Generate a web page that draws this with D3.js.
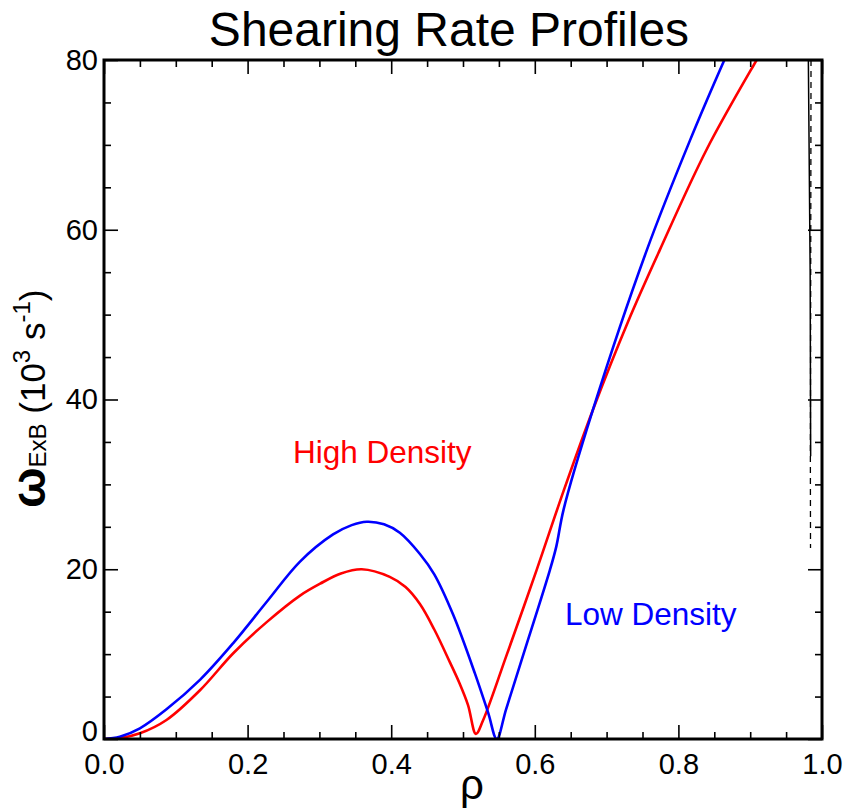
<!DOCTYPE html>
<html>
<head>
<meta charset="utf-8">
<script src="https://cdn.jsdelivr.net/npm/d3@7"></script>
<style>
  body { margin: 0; background: #fff; }
  text { font-family: "Liberation Sans", Arial, sans-serif; }
</style>
</head>
<body>
<div id="chart"></div>
<script>
// Profile data (rho, omega_ExB in 10^3 s^-1)
const highRho = [0, 0.022, 0.05, 0.087, 0.134, 0.180, 0.227, 0.273, 0.301, 0.33, 0.359, 0.398, 0.42, 0.44, 0.46, 0.482, 0.495, 0.507, 0.518, 0.528, 0.56, 0.6025, 0.64, 0.681, 0.73, 0.774, 0.839, 0.909, 0.93];
const highW   = [0, 0.1, 0.67, 2.24, 5.77, 10.1, 13.8, 16.9, 18.3, 19.5, 20.0, 19.1, 17.9, 15.9, 12.9, 9.0, 6.6, 4.0, 0.6, 2.2, 9.7, 19.9, 29.2, 38.8, 49.2, 57.6, 69.4, 80, 83];

const lowRho = [0, 0.022, 0.05, 0.087, 0.134, 0.180, 0.227, 0.273, 0.319, 0.345, 0.366, 0.39, 0.412, 0.44, 0.46, 0.4865, 0.5167, 0.535, 0.547, 0.56, 0.585, 0.621, 0.630, 0.640, 0.681, 0.756, 0.816, 0.864, 0.88];
const lowW   = [0, 0.27, 1.26, 3.5, 7.0, 11.3, 16.2, 20.9, 24.1, 25.2, 25.6, 25.3, 24.3, 21.8, 19.4, 14.6, 7.7, 3.1, 0, 3.5, 10.2, 19.9, 22.7, 27.0, 38.8, 57.6, 70.5, 80, 83];

// black traces squeezed against the right edge
const edgeSolidRho = [0.981, 0.9835, 0.9842];
const edgeSolidW   = [80, 55, 33.3];
const edgeDashRho  = [0.9847, 0.9842, 0.9838, 0.984];
const edgeDashW    = [80, 50, 33.3, 22.5];

const xMajor = [0, 0.2, 0.4, 0.6, 0.8, 1.0];
const xMinor = [0.05, 0.1, 0.15, 0.25, 0.3, 0.35, 0.45, 0.5, 0.55, 0.65, 0.7, 0.75, 0.85, 0.9, 0.95];
const yMajor = [0, 20, 40, 60, 80];
const yMinor = [5, 10, 15, 25, 30, 35, 45, 50, 55, 65, 70, 75];

const width = 854, height = 812;
const margin = { top: 60, right: 32, bottom: 73, left: 104 };
const w = width - margin.left - margin.right;
const h = height - margin.top - margin.bottom;

const svg = d3.select("#chart").append("svg")
  .attr("width", width)
  .attr("height", height);

const g = svg.append("g")
  .attr("transform", `translate(${margin.left},${margin.top})`);

const x = d3.scaleLinear().domain([0, 1]).range([0, w]);
const y = d3.scaleLinear().domain([0, 80]).range([h, 0]);

g.append("clipPath").attr("id", "clip")
  .append("rect").attr("width", w).attr("height", h);

const line = d3.line()
  .x(d => x(d[0]))
  .y(d => y(d[1]))
  .curve(d3.curveCatmullRom.alpha(0.5));

const straight = d3.line()
  .x(d => x(d[0]))
  .y(d => y(d[1]));

const plot = g.append("g").attr("clip-path", "url(#clip)");

plot.append("path")
  .datum(d3.zip(highRho, highW))
  .attr("fill", "none")
  .attr("stroke", "#ff0000")
  .attr("stroke-width", 2.6)
  .attr("d", line);

plot.append("path")
  .datum(d3.zip(lowRho, lowW))
  .attr("fill", "none")
  .attr("stroke", "#0000ff")
  .attr("stroke-width", 2.6)
  .attr("d", line);

plot.append("path")
  .datum(d3.zip(edgeSolidRho, edgeSolidW))
  .attr("fill", "none")
  .attr("stroke", "#000")
  .attr("stroke-width", 1.5)
  .attr("d", straight);

plot.append("path")
  .datum(d3.zip(edgeDashRho, edgeDashW))
  .attr("fill", "none")
  .attr("stroke", "#000")
  .attr("stroke-width", 1.3)
  .attr("stroke-dasharray", "6,5")
  .attr("d", straight);

// Axes: ticks point inward on all four sides
const fmtX = d3.format(".1f");

function styleAxis(sel) {
  sel.select(".domain").remove();
  sel.selectAll(".tick line").attr("stroke", "#000").attr("stroke-width", 1.6);
  sel.selectAll("text").attr("font-size", 29).attr("fill", "#000")
    .style("font-family", '"Liberation Sans", Arial, sans-serif');
}

g.append("g").attr("transform", `translate(0,${h})`)
  .call(d3.axisBottom(x).tickValues(xMajor).tickSize(-14).tickPadding(14).tickFormat(fmtX))
  .call(styleAxis);
g.append("g").attr("transform", `translate(0,${h})`)
  .call(d3.axisBottom(x).tickValues(xMinor).tickSize(-7).tickFormat(""))
  .call(styleAxis);
g.append("g")
  .call(d3.axisTop(x).tickValues(xMajor).tickSize(-14).tickFormat(""))
  .call(styleAxis);
g.append("g")
  .call(d3.axisTop(x).tickValues(xMinor).tickSize(-7).tickFormat(""))
  .call(styleAxis);

const yAxis = g.append("g")
  .call(d3.axisLeft(y).tickValues(yMajor).tickSize(-14).tickPadding(6))
  .call(styleAxis);
// the zero label sits a little higher, clear of the 0.0 below it
yAxis.selectAll(".tick text").filter(d => d === 0).attr("y", -8);

g.append("g")
  .call(d3.axisLeft(y).tickValues(yMinor).tickSize(-7).tickFormat(""))
  .call(styleAxis);
g.append("g").attr("transform", `translate(${w},0)`)
  .call(d3.axisRight(y).tickValues(yMajor).tickSize(-14).tickFormat(""))
  .call(styleAxis);
g.append("g").attr("transform", `translate(${w},0)`)
  .call(d3.axisRight(y).tickValues(yMinor).tickSize(-7).tickFormat(""))
  .call(styleAxis);

// frame
g.append("rect")
  .attr("width", w).attr("height", h)
  .attr("fill", "none")
  .attr("stroke", "#000")
  .attr("stroke-width", 3);

// Title
svg.append("text")
  .attr("x", 449).attr("y", 46)
  .attr("text-anchor", "middle")
  .attr("font-size", 48)
  .text("Shearing Rate Profiles");

// x label
svg.append("text")
  .attr("x", 472).attr("y", 799)
  .attr("text-anchor", "middle")
  .attr("font-size", 42)
  .text("ρ");

// y label with sub/superscripts
const yl = svg.append("text")
  .attr("transform", "translate(45,508) rotate(-90)")
  .attr("text-anchor", "start")
  .attr("font-size", 35);
yl.append("tspan").attr("font-size", 48).attr("font-weight", "bold").text("ω");
yl.append("tspan").attr("font-size", 24).attr("dy", 1).text("ExB");
yl.append("tspan").attr("dy", -1).text(" (10");
yl.append("tspan").attr("font-size", 24).attr("dy", -15).text("3");
yl.append("tspan").attr("dy", 15).text(" s");
yl.append("tspan").attr("font-size", 24).attr("dy", -15).text("-1");
yl.append("tspan").attr("dy", 15).text(")");

// series labels
svg.append("text")
  .attr("x", 293).attr("y", 463)
  .attr("font-size", 31.5)
  .attr("fill", "#ff0000")
  .text("High Density");

svg.append("text")
  .attr("x", 565).attr("y", 625)
  .attr("font-size", 31.5)
  .attr("fill", "#0000ff")
  .text("Low Density");
</script>
</body>
</html>
